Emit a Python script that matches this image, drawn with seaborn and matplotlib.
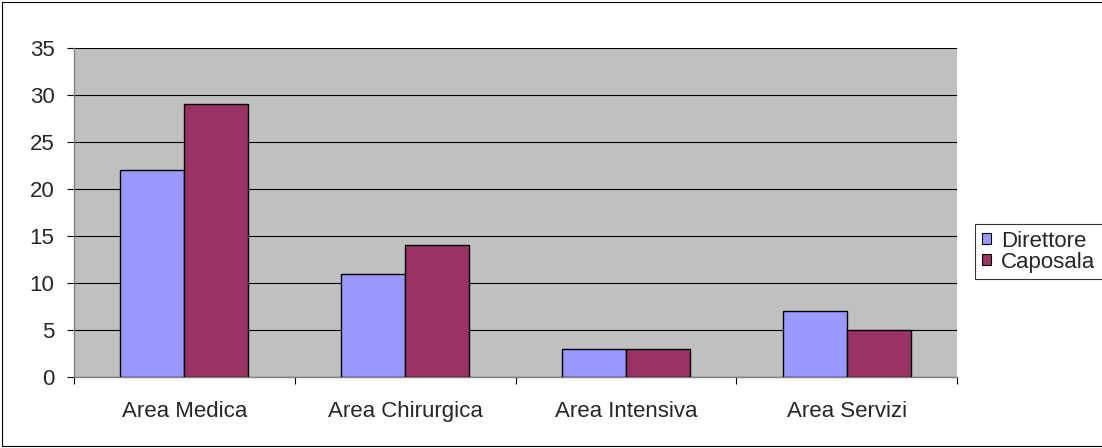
import matplotlib
matplotlib.use("Agg")
import matplotlib.pyplot as plt
from matplotlib.patches import Rectangle
import seaborn as sns
import pandas as pd

categories = ["Area Medica", "Area Chirurgica", "Area Intensiva", "Area Servizi"]
series_names = ["Direttore", "Caposala"]
direttore = [22, 11, 3, 7]
caposala = [29, 14, 3, 5]
y_ticks = [0, 5, 10, 15, 20, 25, 30, 35]

df = pd.DataFrame({
    "area": categories * 2,
    "ruolo": [series_names[0]] * len(categories) + [series_names[1]] * len(categories),
    "valore": direttore + caposala,
})

sns.set_theme(style="white")
plt.rcParams["font.family"] = ["Liberation Sans", "DejaVu Sans"]

FS = 16

fig = plt.figure(figsize=(11.02, 4.48), dpi=100)
ax = fig.add_axes([74 / 1102, 1 - 377 / 448, (957 - 74) / 1102, (377 - 48) / 448])
ax.set_facecolor("#C0C0C0")

sns.barplot(data=df, x="area", y="valore", hue="ruolo", order=categories,
            hue_order=series_names, palette=["#9999FF", "#993366"],
            width=0.58, gap=0, edgecolor="black", linewidth=1.0,
            saturation=1, ax=ax, legend=False, zorder=3)

ax.set_ylim(0, 35)
ax.set_xlim(-0.5, len(categories) - 0.5)
ax.set_yticks(y_ticks)
ax.yaxis.grid(True, color="black", linewidth=0.8, zorder=1)
ax.set_axisbelow(True)
ax.set_xlabel("")
ax.set_ylabel("")

# category boundaries as tick marks, names centred between them
ax.set_xticks([i - 0.5 for i in range(len(categories) + 1)])
ax.set_xticklabels([])
ax.set_xticks(range(len(categories)), minor=True)
ax.set_xticklabels(categories, minor=True, fontsize=FS)
ax.tick_params(axis="x", which="major", length=5, width=0.8, color="black", direction="out", bottom=True)
ax.tick_params(axis="x", which="minor", length=0, pad=17)
ax.tick_params(axis="y", length=5, width=0.8, color="black", direction="out", left=True, labelsize=FS, pad=9)

for side in ["top", "right"]:
    ax.spines[side].set_visible(False)
for side in ["left", "bottom"]:
    ax.spines[side].set_color("#808080")
    ax.spines[side].set_linewidth(1.0)

handles = [Rectangle((0, 0), 1, 1, facecolor=c, edgecolor="black", linewidth=0.8)
           for c in ["#9999FF", "#993366"]]
leg = fig.legend(handles, series_names, loc="upper left",
                 bbox_to_anchor=(975 / 1102, 1 - 224 / 448, 0.15, 0), mode="expand",
                 frameon=True, fancybox=False, shadow=False, fontsize=FS,
                 handlelength=0.42, handleheight=0.42, handletextpad=0.45,
                 borderpad=0.3, labelspacing=0.0, borderaxespad=0)
leg.get_frame().set_edgecolor("black")
leg.get_frame().set_linewidth(0.8)

# chart-area frame, open on the right where the legend runs off the edge
fig.patches.append(Rectangle((2 / 1102, 2 / 448), 1.2, 1 - 4 / 448,
                             transform=fig.transFigure, fill=False,
                             edgecolor="black", linewidth=0.8))

fig.savefig("out.png", dpi=100)
